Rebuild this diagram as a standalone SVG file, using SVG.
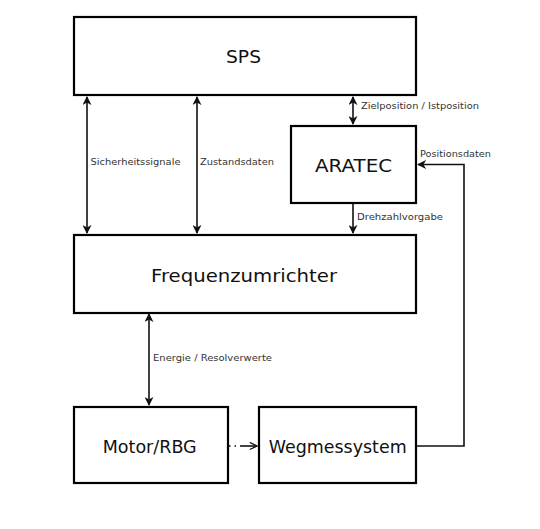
<svg xmlns="http://www.w3.org/2000/svg" width="540" height="529" viewBox="0 0 540 529">
<style>
.box{fill:#fff;stroke:#000;stroke-width:2.2}
.t{font-family:"DejaVu Sans",sans-serif;font-size:18px;fill:#111;text-anchor:middle}
.l{font-family:"DejaVu Sans",sans-serif;font-size:9px;fill:#333}
.c{fill:none;stroke:#111;stroke-width:1.6}
</style>
<defs>
<marker id="ah" viewBox="0 0 10 10" refX="9" refY="5" markerWidth="9" markerHeight="9" markerUnits="userSpaceOnUse" orient="auto-start-reverse">
<path d="M0,0 L10,5 L0,10 L3,5 Z" fill="#111"/>
</marker>
<marker id="oh" viewBox="0 0 10 10" refX="9" refY="5" markerWidth="9" markerHeight="9" markerUnits="userSpaceOnUse" orient="auto">
<path d="M1,1 L9,5 L1,9" fill="none" stroke="#111" stroke-width="1.3"/>
</marker>
</defs>
<rect width="540" height="529" fill="#fff"/>
<g id="connectors">
<line class="c" x1="87" y1="97" x2="87" y2="233" marker-start="url(#ah)" marker-end="url(#ah)"/>
<line class="c" x1="197" y1="97" x2="197" y2="233" marker-start="url(#ah)" marker-end="url(#ah)"/>
<line class="c" x1="353" y1="97" x2="353" y2="124" marker-start="url(#ah)" marker-end="url(#ah)"/>
<line class="c" x1="353" y1="204" x2="353" y2="233" marker-end="url(#ah)"/>
<line class="c" x1="149" y1="314" x2="149" y2="405" marker-start="url(#ah)" marker-end="url(#ah)"/>
<line class="c" x1="229" y1="446" x2="241" y2="446" stroke-dasharray="1.5,4"/>
<line class="c" x1="241" y1="446" x2="257" y2="446" marker-end="url(#oh)"/>
<polyline class="c" points="417,446 464,446 464,164.5 418,164.5" marker-end="url(#ah)"/>
<text class="l" x="361" y="109" textLength="118" lengthAdjust="spacingAndGlyphs">Zielposition / Istposition</text>
<text class="l" x="90.5" y="165" textLength="90" lengthAdjust="spacingAndGlyphs">Sicherheitssignale</text>
<text class="l" x="200" y="165" textLength="74" lengthAdjust="spacingAndGlyphs">Zustandsdaten</text>
<text class="l" x="420" y="157" textLength="71" lengthAdjust="spacingAndGlyphs">Positionsdaten</text>
<text class="l" x="357" y="219.5" textLength="86" lengthAdjust="spacingAndGlyphs">Drehzahlvorgabe</text>
<text class="l" x="153" y="360.5" textLength="119" lengthAdjust="spacingAndGlyphs">Energie / Resolverwerte</text>
</g>
<g id="sps"><rect class="box" x="74" y="17" width="342" height="78"/><text class="t" x="243.5" y="63" textLength="35" lengthAdjust="spacingAndGlyphs">SPS</text></g>
<g id="aratec"><rect class="box" x="291" y="126" width="125" height="77"/><text class="t" x="353.5" y="172" textLength="77" lengthAdjust="spacingAndGlyphs">ARATEC</text></g>
<g id="frequenzumrichter"><rect class="box" x="74" y="235" width="342" height="78"/><text class="t" x="244" y="282" textLength="186" lengthAdjust="spacingAndGlyphs">Frequenzumrichter</text></g>
<g id="motor"><rect class="box" x="74" y="407" width="154" height="76"/><text class="t" x="149.7" y="453" textLength="94" lengthAdjust="spacingAndGlyphs">Motor/RBG</text></g>
<g id="wegmessystem"><rect class="box" x="259" y="407" width="157" height="76"/><text class="t" x="337.7" y="453" textLength="138" lengthAdjust="spacingAndGlyphs">Wegmessystem</text></g>
</svg>
